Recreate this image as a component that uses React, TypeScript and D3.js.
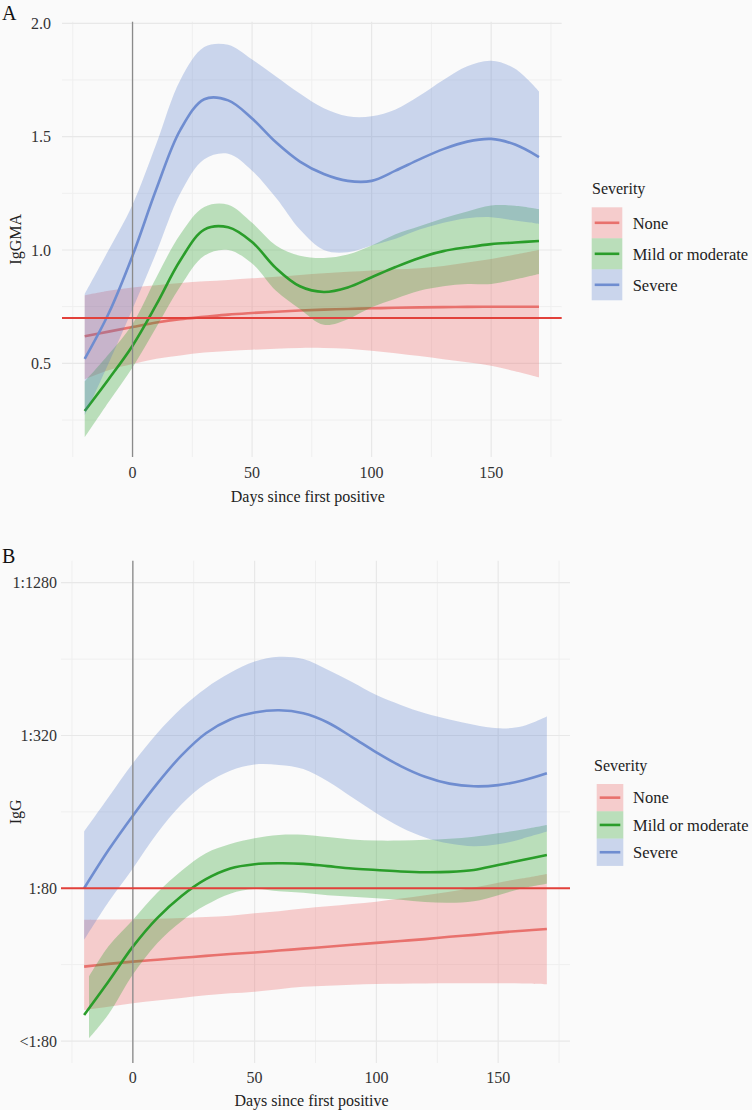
import React from "react";
import * as d3 from "d3";

// ---------- data ----------
const DAYS = [-20, -10, 0, 10, 20, 30, 40, 50, 60, 70, 80, 90, 100, 110, 120, 130, 140, 150, 160, 170];
const SEVERITY = ["None", "Mild or moderate", "Severe"];

// Panel A: IgGMA
const noneFitA = [0.62, 0.64, 0.66, 0.68, 0.695, 0.705, 0.715, 0.722, 0.728, 0.733, 0.737, 0.74, 0.743, 0.745, 0.747, 0.748, 0.749, 0.75, 0.75, 0.75];
const noneLowA = [0.43, 0.47, 0.497, 0.52, 0.535, 0.548, 0.555, 0.56, 0.565, 0.568, 0.568, 0.565, 0.556, 0.545, 0.532, 0.518, 0.505, 0.49, 0.465, 0.438];
const noneHighA = [0.8, 0.82, 0.835, 0.845, 0.855, 0.862, 0.868, 0.875, 0.882, 0.89, 0.897, 0.904, 0.91, 0.915, 0.92, 0.93, 0.945, 0.96, 0.98, 1.0];

const mildFitA = [0.29, 0.43, 0.578, 0.76, 0.955, 1.09, 1.1, 1.035, 0.92, 0.84, 0.815, 0.835, 0.88, 0.925, 0.965, 0.995, 1.012, 1.026, 1.033, 1.04];
const mildLowA = [0.174, 0.33, 0.482, 0.66, 0.84, 0.975, 1.0, 0.94, 0.82, 0.74, 0.67, 0.695, 0.747, 0.785, 0.82, 0.84, 0.85, 0.85, 0.87, 0.894];
const mildHighA = [0.42, 0.54, 0.674, 0.88, 1.07, 1.19, 1.2, 1.12, 1.02, 0.975, 0.965, 0.98, 1.02, 1.07, 1.105, 1.14, 1.17, 1.196, 1.195, 1.18];

const severeFitA = [0.52, 0.72, 0.975, 1.27, 1.53, 1.665, 1.66, 1.58, 1.475, 1.39, 1.335, 1.305, 1.305, 1.35, 1.4, 1.445, 1.478, 1.49, 1.465, 1.41];
const severeLowA = [0.27, 0.5, 0.74, 0.99, 1.25, 1.4, 1.425, 1.35, 1.23, 1.09, 1.0, 0.99, 1.02, 1.05, 1.09, 1.12, 1.14, 1.145, 1.13, 1.115];
const severeHighA = [0.806, 1.0, 1.2, 1.47, 1.75, 1.895, 1.905, 1.84, 1.765, 1.69, 1.625, 1.59, 1.59, 1.62, 1.68, 1.75, 1.81, 1.835, 1.8, 1.7];

const thresholdA = 0.7;
const yTicksA = [0.5, 1.0, 1.5, 2.0];
const yMinorA = [0.25, 0.75, 1.25, 1.75];

// Panel B: IgG, in log2 steps relative to a 1:80 titre
const noneFitB = [-1.025, -0.99, -0.96, -0.935, -0.91, -0.885, -0.86, -0.84, -0.815, -0.79, -0.765, -0.74, -0.715, -0.69, -0.665, -0.635, -0.61, -0.58, -0.555, -0.532];
const noneLowB = [-1.593, -1.55, -1.505, -1.47, -1.435, -1.4, -1.375, -1.353, -1.32, -1.29, -1.275, -1.262, -1.252, -1.248, -1.245, -1.243, -1.243, -1.243, -1.247, -1.257];
const noneHighB = [-0.414, -0.41, -0.405, -0.4, -0.39, -0.375, -0.36, -0.327, -0.3, -0.265, -0.235, -0.205, -0.175, -0.135, -0.09, -0.045, 0.01, 0.074, 0.13, 0.188];

const mildFitB = [-1.658, -1.22, -0.764, -0.39, -0.1, 0.12, 0.26, 0.315, 0.327, 0.32, 0.29, 0.26, 0.24, 0.22, 0.21, 0.215, 0.24, 0.305, 0.37, 0.436];
const mildBandDaysB = [-18, -10, 0, 10, 20, 30, 40, 50, 60, 70, 80, 90, 100, 110, 120, 130, 140, 150, 160, 170];
const mildLowB = [-1.963, -1.65, -1.13, -0.72, -0.43, -0.22, -0.07, -0.01, -0.04, -0.06, -0.09, -0.11, -0.131, -0.15, -0.18, -0.19, -0.17, -0.09, 0.0, 0.06];
const mildHighB = [-1.156, -0.76, -0.414, -0.06, 0.23, 0.46, 0.58, 0.654, 0.698, 0.7, 0.67, 0.64, 0.624, 0.624, 0.635, 0.65, 0.676, 0.72, 0.77, 0.829];

const severeFitB = [0, 0.5, 0.95, 1.37, 1.74, 2.03, 2.21, 2.3, 2.33, 2.29, 2.17, 1.98, 1.78, 1.6, 1.46, 1.37, 1.335, 1.35, 1.41, 1.505];
const severeLowB = [-0.676, -0.18, 0.26, 0.72, 1.1, 1.37, 1.54, 1.62, 1.614, 1.56, 1.4, 1.19, 0.982, 0.8, 0.665, 0.585, 0.55, 0.575, 0.65, 0.742];
const severeHighB = [0.742, 1.19, 1.636, 2.03, 2.36, 2.62, 2.82, 2.967, 3.03, 3.0, 2.86, 2.7, 2.53, 2.4, 2.29, 2.21, 2.14, 2.094, 2.12, 2.247];

const thresholdB = 0;
const yTicksB = [-2, 0, 2, 4];
const yTickLabelsB = ["<1:80", "1:80", "1:320", "1:1280"];
const yMinorB = [-1, 1, 3];

const xTicks = [0, 50, 100, 150];
const xMinor = [-25, 25, 75, 125, 175];

// ---------- styles ----------
const LINE_COLORS = ["#e8716d", "#2a9d2a", "#6f8dd0"];
const FILL_COLORS = ["rgba(236,100,100,0.3)", "rgba(40,160,40,0.3)", "rgba(80,120,200,0.28)"];
const FONT = "'Liberation Serif', 'Times New Roman', serif";
const TEXT = "#222";
const FS = 16;

type Series = { days: number[]; bandDays?: number[]; fit: number[]; low: number[]; high: number[] };

type PanelProps = {
  letter: string;
  letterY: number;
  yTitle: string;
  left: number;
  right: number;
  top: number;
  bottom: number;
  yDomain: [number, number];
  yTicks: number[];
  yTickLabels: string[];
  yMinor: number[];
  yLabelX: number;
  threshold: number;
  series: Series[];
  xTickY: number;
  xTitleY: number;
  legend: { x: number; titleY: number; keyX: number; keyY: number; keyW: number; keyH: number; labelX: number };
};

function Panel(p: PanelProps) {
  const x = d3.scaleLinear().domain([-29.5, 179.5]).range([p.left, p.right]);
  const y = d3.scaleLinear().domain(p.yDomain).range([p.bottom, p.top]);
  const curve = d3.curveCatmullRom.alpha(0.5);

  return (
    <g>
      {p.yMinor.map((v) => (
        <line key={"ym" + v} x1={p.left} x2={p.right} y1={y(v)} y2={y(v)} stroke="#efefef" strokeWidth={1} />
      ))}
      {xMinor.map((v) => (
        <line key={"xm" + v} x1={x(v)} x2={x(v)} y1={p.top} y2={p.bottom} stroke="#efefef" strokeWidth={1} />
      ))}
      {p.yTicks.map((v) => (
        <line key={"yM" + v} x1={p.left} x2={p.right} y1={y(v)} y2={y(v)} stroke="#e8e8e8" strokeWidth={1.2} />
      ))}
      {xTicks.map((v) => (
        <line key={"xM" + v} x1={x(v)} x2={x(v)} y1={p.top} y2={p.bottom} stroke="#e8e8e8" strokeWidth={1.2} />
      ))}

      {p.series.map((s, i) => {
        const bd = s.bandDays ?? s.days;
        const area = d3
          .area<number>()
          .x((_, j) => x(bd[j]))
          .y0((_, j) => y(s.low[j]))
          .y1((_, j) => y(s.high[j]))
          .curve(curve);
        const line = d3
          .line<number>()
          .x((_, j) => x(s.days[j]))
          .y((d) => y(d))
          .curve(curve);
        return (
          <g key={"s" + i}>
            <path d={area(s.low) || ""} fill={FILL_COLORS[i]} stroke="none" />
            <path d={line(s.fit) || ""} fill="none" stroke={LINE_COLORS[i]} strokeWidth={2.6} />
          </g>
        );
      })}

      <line x1={x(0)} x2={x(0)} y1={p.top} y2={p.bottom} stroke="#8a8a8a" strokeWidth={1.3} />
      <line x1={p.left} x2={p.right} y1={y(p.threshold)} y2={y(p.threshold)} stroke="#e2413b" strokeWidth={2} />

      {p.yTicks.map((v, i) => (
        <text key={"yl" + v} x={p.yLabelX} y={y(v)} dy="0.35em" textAnchor="end" fontSize={FS} fill="#333" fontFamily={FONT}>
          {p.yTickLabels[i]}
        </text>
      ))}
      {xTicks.map((v) => (
        <text key={"xl" + v} x={x(v)} y={p.xTickY} textAnchor="middle" fontSize={FS} fill="#333" fontFamily={FONT}>
          {v}
        </text>
      ))}
      <text x={(p.left + p.right) / 2 - 4} y={p.xTitleY} textAnchor="middle" fontSize={FS} fill={TEXT} fontFamily={FONT}>
        Days since first positive
      </text>
      <text
        transform={`translate(21,${(p.top + p.bottom) / 2}) rotate(-90)`}
        textAnchor="middle"
        fontSize={FS}
        fill={TEXT}
        fontFamily={FONT}
      >
        {p.yTitle}
      </text>
      <text x={2} y={p.letterY} fontSize={20} fill="#111" fontFamily={FONT}>
        {p.letter}
      </text>

      <text x={p.legend.x} y={p.legend.titleY} fontSize={FS} fill={TEXT} fontFamily={FONT}>
        Severity
      </text>
      {SEVERITY.map((name, i) => {
        const ky = p.legend.keyY + i * p.legend.keyH;
        return (
          <g key={name}>
            <rect x={p.legend.keyX} y={ky} width={p.legend.keyW} height={p.legend.keyH} fill={FILL_COLORS[i]} />
            <line
              x1={p.legend.keyX + 3}
              x2={p.legend.keyX + p.legend.keyW - 3}
              y1={ky + p.legend.keyH / 2}
              y2={ky + p.legend.keyH / 2}
              stroke={LINE_COLORS[i]}
              strokeWidth={2.6}
            />
            <text x={p.legend.labelX} y={ky + p.legend.keyH / 2} dy="0.35em" fontSize={FS + 0.5} fill={TEXT} fontFamily={FONT}>
              {name}
            </text>
          </g>
        );
      })}
    </g>
  );
}

export default function App() {
  const seriesA: Series[] = [
    { days: DAYS, fit: noneFitA, low: noneLowA, high: noneHighA },
    { days: DAYS, fit: mildFitA, low: mildLowA, high: mildHighA },
    { days: DAYS, fit: severeFitA, low: severeLowA, high: severeHighA },
  ];
  const seriesB: Series[] = [
    { days: DAYS, fit: noneFitB, low: noneLowB, high: noneHighB },
    { days: DAYS, bandDays: mildBandDaysB, fit: mildFitB, low: mildLowB, high: mildHighB },
    { days: DAYS, fit: severeFitB, low: severeLowB, high: severeHighB },
  ];
  return (
    <svg width={752} height={1110} style={{ position: "absolute", left: 0, top: 0, background: "#fafafa" }}>
      <rect x={0} y={0} width={752} height={1110} fill="#fafafa" />
      <Panel
        letter="A"
        letterY={20}
        yTitle="IgGMA"
        left={62}
        right={561.7}
        top={21.7}
        bottom={457}
        yDomain={[0.087, 2.007]}
        yTicks={yTicksA}
        yTickLabels={yTicksA.map((v) => v.toFixed(1))}
        yMinor={yMinorA}
        yLabelX={51}
        threshold={thresholdA}
        series={seriesA}
        xTickY={478}
        xTitleY={502}
        legend={{ x: 592, titleY: 194, keyX: 591.7, keyY: 207.3, keyW: 30.6, keyH: 31, labelX: 632.7 }}
      />
      <Panel
        letter="B"
        letterY={563}
        yTitle="IgG"
        left={61}
        right={570}
        top={560.7}
        bottom={1063}
        yDomain={[-2.287, 4.288]}
        yTicks={yTicksB}
        yTickLabels={yTickLabelsB}
        yMinor={yMinorB}
        yLabelX={57}
        threshold={thresholdB}
        series={seriesB}
        xTickY={1083}
        xTitleY={1106}
        legend={{ x: 594, titleY: 771, keyX: 596.7, keyY: 784, keyW: 26.6, keyH: 27.3, labelX: 633 }}
      />
    </svg>
  );
}
